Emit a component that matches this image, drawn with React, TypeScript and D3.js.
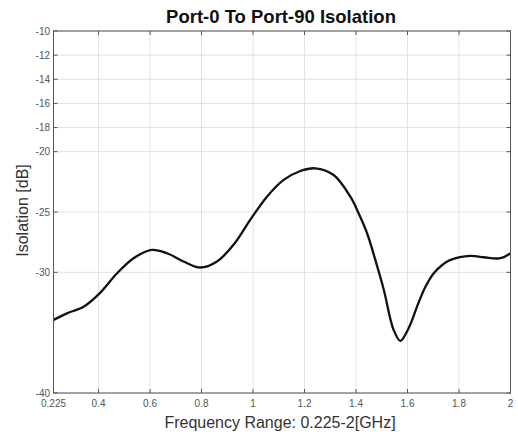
import React from "react";
import * as d3 from "d3";

const freq = [0.225, 0.277, 0.342, 0.406, 0.471, 0.536, 0.607, 0.666, 0.73, 0.795, 0.86, 0.925, 0.989, 1.054, 1.119, 1.184, 1.242, 1.313, 1.378, 1.41, 1.443, 1.475, 1.508, 1.546, 1.572, 1.598, 1.618, 1.637, 1.67, 1.702, 1.735, 1.767, 1.844, 1.896, 1.961, 2.0];
const isolation = [-33.94, -33.4, -32.85, -31.7, -30.1, -28.83, -28.14, -28.42, -29.1, -29.6, -29.1, -27.7, -25.66, -23.73, -22.34, -21.6, -21.38, -21.93, -23.73, -25.1, -26.76, -28.97, -31.46, -34.77, -35.68, -34.9, -33.94, -32.84, -31.18, -30.07, -29.39, -28.97, -28.64, -28.75, -28.83, -28.42];
const xTicks = [0.225, 0.4, 0.6, 0.8, 1, 1.2, 1.4, 1.6, 1.8, 2];
const yTicks = [-10, -12, -14, -16, -18, -20, -25, -30, -40];
const title = "Port-0 To Port-90 Isolation";
const xLabel = "Frequency Range: 0.225-2[GHz]";
const yLabel = "Isolation [dB]";

const W = 518, H = 437;
const M = { left: 53.5, right: 510.5, top: 31, bottom: 393 };

export default function App() {
  const x = d3.scaleLinear().domain([0.225, 2]).range([M.left, M.right]);
  const y = d3.scaleLinear().domain([-40, -10]).range([M.bottom, M.top]);
  const pts = freq.map((f, i) => [f, isolation[i]] as [number, number]);
  const line = d3.line<[number, number]>().x(d => x(d[0])).y(d => y(d[1])).curve(d3.curveCatmullRom.alpha(0.5));
  const font = "Liberation Sans, Arial, sans-serif";
  return (
    <svg width={W} height={H} style={{ position: "absolute", left: 0, top: 0 }} fontFamily={font}>
      <rect width={W} height={H} fill="#fff" />
      {xTicks.map(t => (
        <line key={"gx" + t} x1={x(t)} x2={x(t)} y1={M.top} y2={M.bottom} stroke="#e2e2e2" strokeWidth={1} />
      ))}
      {yTicks.map(t => (
        <line key={"gy" + t} x1={M.left} x2={M.right} y1={y(t)} y2={y(t)} stroke="#e2e2e2" strokeWidth={1} />
      ))}
      <path d={line(pts) || ""} fill="none" stroke="#111" strokeWidth={2.3} />
      <rect x={M.left} y={M.top} width={M.right - M.left} height={M.bottom - M.top} fill="none" stroke="#555" strokeWidth={1} />
      {xTicks.map(t => (
        <g key={"tx" + t}>
          <line x1={x(t)} x2={x(t)} y1={M.bottom} y2={M.bottom - 4} stroke="#555" />
          <line x1={x(t)} x2={x(t)} y1={M.top} y2={M.top + 4} stroke="#555" />
          <text x={x(t)} y={M.bottom + 13.5} fontSize={10} fill="#555" textAnchor="middle">{String(t)}</text>
        </g>
      ))}
      {yTicks.map(t => (
        <g key={"ty" + t}>
          <line x1={M.left} x2={M.left + 4} y1={y(t)} y2={y(t)} stroke="#555" />
          <line x1={M.right} x2={M.right - 4} y1={y(t)} y2={y(t)} stroke="#555" />
          <text x={M.left - 3.5} y={y(t) + 3.5} fontSize={10} fill="#555" textAnchor="end">{String(t)}</text>
        </g>
      ))}
      <text x={281} y={23.3} fontSize={18.5} fontWeight="bold" fill="#111" textAnchor="middle">{title}</text>
      <text x={280} y={427.7} fontSize={16} fill="#333" textAnchor="middle">{xLabel}</text>
      <text transform="translate(27.5,210.5) rotate(-90)" fontSize={16} fill="#333" textAnchor="middle">{yLabel}</text>
    </svg>
  );
}
